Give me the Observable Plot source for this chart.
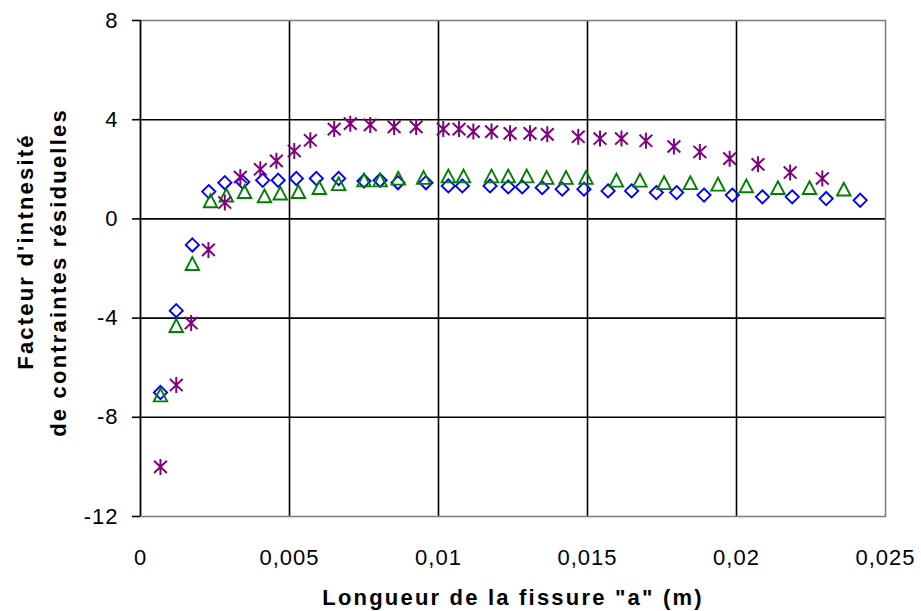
<!DOCTYPE html>
<html>
<head>
<meta charset="utf-8">
<script src="https://cdn.jsdelivr.net/npm/d3@7"></script>
<script src="https://cdn.jsdelivr.net/npm/@observablehq/plot@0.6"></script>
<style>
  html, body { margin: 0; padding: 0; background: #fff; }
  #chart { width: 921px; height: 611px; }
  #chart g[aria-label="text"] text { letter-spacing: 2.2px; }
  #chart g[aria-label$="tick label"] text { letter-spacing: 1px; }
</style>
</head>
<body>
<div id="chart"></div>
<script>
// Series: diamonds (blue)
const diamondA = [0.00067,0.0012,0.00174,0.00229,0.00283,0.00343,0.0041,0.00462,0.00523,0.0059,0.00665,0.0075,0.00804,0.00864,0.00958,0.01033,0.0108,0.01173,0.01234,0.01281,0.01348,0.01415,0.01488,0.01569,0.01648,0.01731,0.01799,0.01891,0.01986,0.02087,0.02187,0.02301,0.02415];
const diamondK = [-7.0,-3.7,-1.05,1.1,1.46,1.49,1.56,1.56,1.63,1.63,1.63,1.53,1.56,1.46,1.46,1.33,1.33,1.33,1.29,1.29,1.26,1.2,1.2,1.13,1.13,1.06,1.06,0.96,0.96,0.89,0.89,0.82,0.75];
// Series: triangles (green)
const triangleA = [0.00067,0.0012,0.00174,0.00235,0.00288,0.00349,0.00416,0.00469,0.0053,0.006,0.00665,0.0075,0.00804,0.00865,0.0095,0.01033,0.01084,0.01178,0.01234,0.01296,0.01363,0.01428,0.01495,0.01597,0.01676,0.01757,0.01845,0.01938,0.02033,0.02139,0.02245,0.0236];
const triangleK = [-7.1,-4.3,-1.8,0.73,0.96,1.1,0.93,1.04,1.1,1.26,1.42,1.57,1.57,1.64,1.67,1.73,1.73,1.73,1.73,1.73,1.67,1.67,1.67,1.56,1.56,1.46,1.46,1.4,1.33,1.26,1.26,1.2];
// Series: stars (purple)
const starA = [0.00067,0.0012,0.0017,0.00228,0.00283,0.00335,0.00402,0.00456,0.00516,0.0057,0.0065,0.00704,0.00771,0.00851,0.00925,0.01016,0.01069,0.01117,0.01178,0.0124,0.01307,0.01365,0.01469,0.01542,0.01614,0.01696,0.0179,0.01877,0.01977,0.02072,0.0218,0.02288];
const starK = [-10.0,-6.7,-4.2,-1.25,0.66,1.69,2.0,2.34,2.74,3.17,3.62,3.84,3.79,3.71,3.71,3.62,3.62,3.52,3.52,3.45,3.45,3.41,3.31,3.24,3.24,3.15,2.92,2.7,2.43,2.2,1.87,1.63];

const xTicks = [0, 0.005, 0.01, 0.015, 0.02, 0.025];
const yTicks = [-12, -8, -4, 0, 4, 8];
const xTitle = "Longueur de la fissure \"a\" (m)";
const yTitleLine1 = "Facteur d'intnesité";
const yTitleLine2 = "de contraintes résiduelles";

const toRows = (A, K) => A.map((a, i) => ({a, k: K[i]}));
const diamonds = toRows(diamondA, diamondK);
const triangles = toRows(triangleA, triangleK);
const stars = toRows(starA, starK);

const frFmt = d => String(d).replace(".", ",");

// custom marker shapes (size = pi r^2)
const symDiamond = { draw(ctx, size) { const h = Math.sqrt(size / Math.PI);
  ctx.moveTo(0, -h); ctx.lineTo(h, 0); ctx.lineTo(0, h); ctx.lineTo(-h, 0); ctx.closePath(); } };
const symTriangle = { draw(ctx, size) { const h = Math.sqrt(size / Math.PI);
  ctx.moveTo(0, -h); ctx.lineTo(h * 1.05, h); ctx.lineTo(-h * 1.05, h); ctx.closePath(); } };
const symStar = { draw(ctx, size) { const h = Math.sqrt(size / Math.PI); const d = h * 0.8;
  ctx.moveTo(0, -h); ctx.lineTo(0, h);
  ctx.moveTo(-d, -d * 0.95); ctx.lineTo(d, d * 0.95);
  ctx.moveTo(d, -d * 0.95); ctx.lineTo(-d, d * 0.95); } };

const font = "'Liberation Sans', Arial, sans-serif";

const chart = Plot.plot({
  width: 921,
  height: 611,
  marginLeft: 140,
  marginRight: 36,
  marginTop: 20,
  marginBottom: 95,
  style: { fontFamily: font, fontSize: "22px", color: "#000", background: "#fff" },
  x: { domain: [0, 0.025], ticks: xTicks, tickFormat: frFmt, label: null },
  y: { domain: [-12, 8], ticks: yTicks, tickFormat: frFmt, label: null },
  marks: [
    Plot.ruleX(xTicks.slice(1, -1), { stroke: "#000", strokeWidth: 1.6 }),
    Plot.ruleY(yTicks.slice(1, -1), { stroke: "#000", strokeWidth: 1.6 }),
    Plot.frame({ stroke: "#808080", strokeWidth: 1.6 }),
    Plot.ruleX([0], { stroke: "#000", strokeWidth: 1.6 }),
    Plot.axisY({ ticks: yTicks, tickFormat: frFmt, tickSize: 8, tickPadding: 14, stroke: "#000", strokeWidth: 1.6, fontSize: 22, label: null }),
    Plot.axisX({ ticks: xTicks, tickFormat: frFmt, tickSize: 0, tickPadding: 33, fontSize: 22, label: null }),
    Plot.dot(diamonds, { x: "a", y: "k", symbol: symDiamond, r: 6.6, stroke: "#0000FF", strokeWidth: 1.9, fill: "none" }),
    Plot.dot(triangles, { x: "a", y: "k", symbol: symTriangle, r: 6.4, stroke: "#008000", strokeWidth: 1.9, fill: "none" }),
    Plot.dot(stars, { x: "a", y: "k", symbol: symStar, r: 8, stroke: "#800080", strokeWidth: 2, fill: "none" }),
    Plot.text([xTitle], { frameAnchor: "bottom", dy: 88, text: d => d, fontWeight: "bold", fontSize: 22, fill: "#000" }),
    Plot.text([yTitleLine1], { frameAnchor: "left", textAnchor: "middle", dx: -115, dy: -17, rotate: -90, text: d => d, fontWeight: "bold", fontSize: 22, fill: "#000" }),
    Plot.text([yTitleLine2], { frameAnchor: "left", textAnchor: "middle", dx: -82, dy: 4, rotate: -90, text: d => d, fontWeight: "bold", fontSize: 22, fill: "#000" })
  ]
});
document.getElementById("chart").appendChild(chart);
</script>
</body>
</html>
